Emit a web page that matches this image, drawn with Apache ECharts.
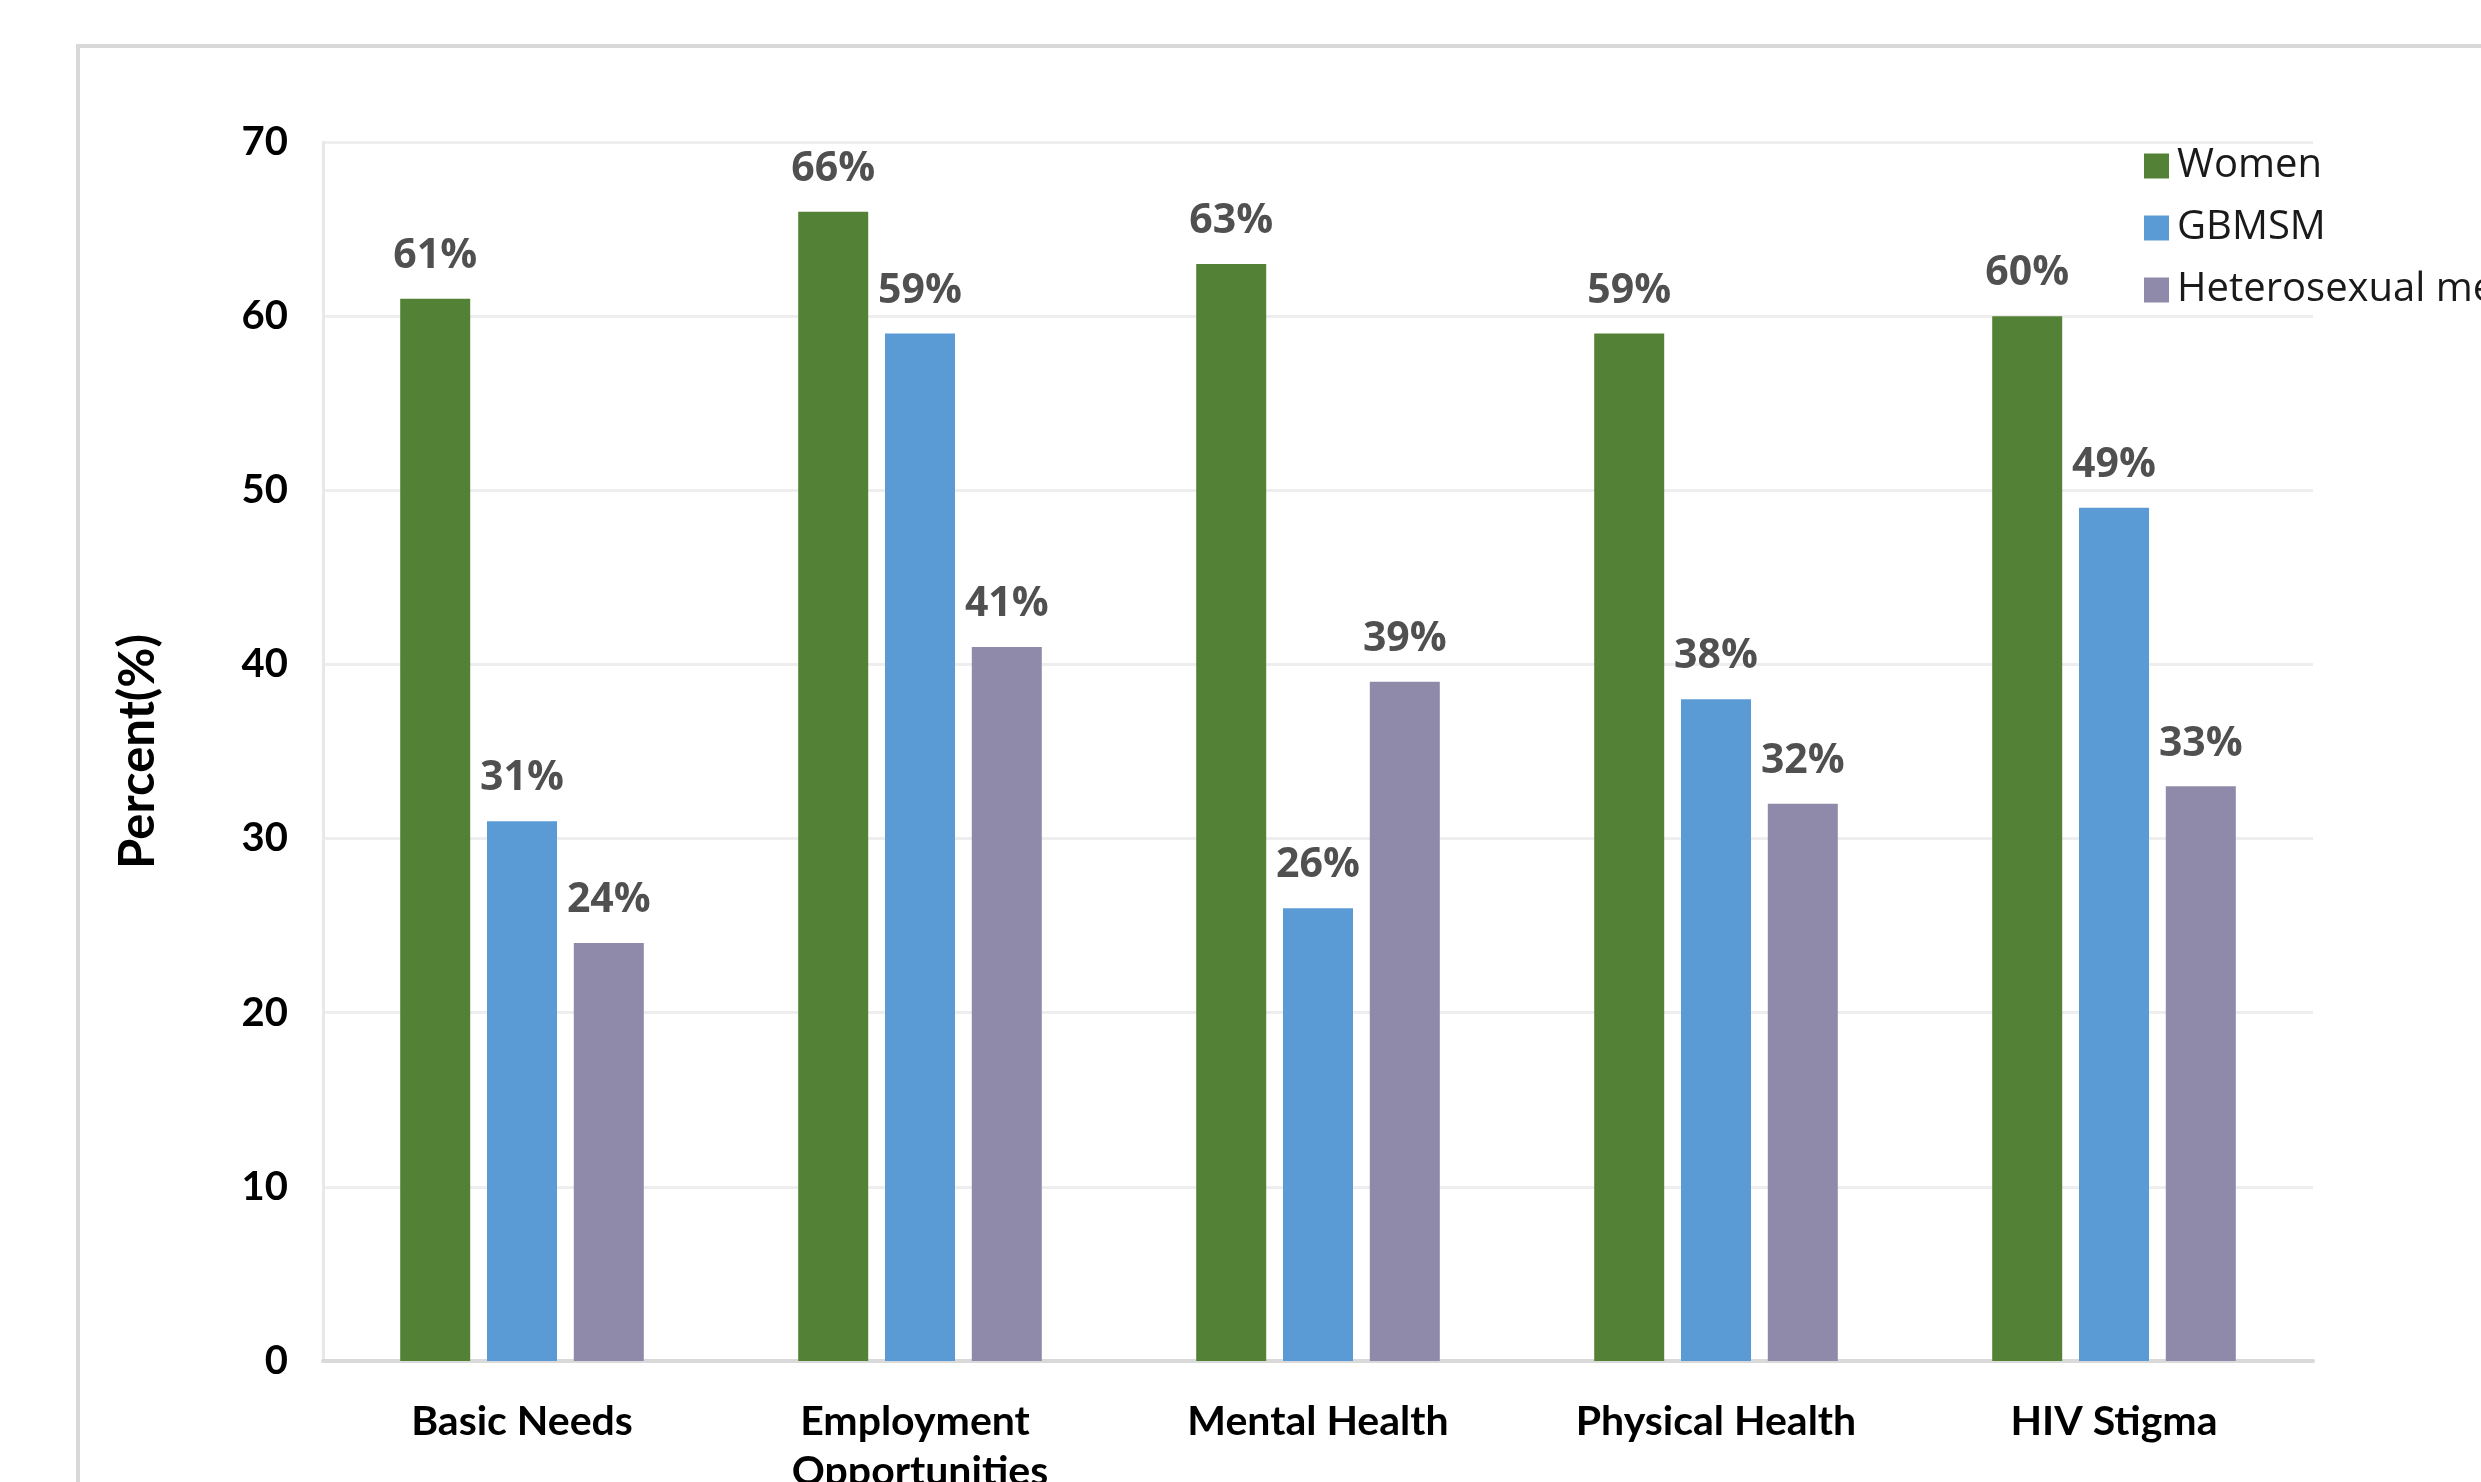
<!DOCTYPE html>
<html>
<head>
<meta charset="utf-8">
<title>Percent by domain and group</title>
<script src="https://cdn.jsdelivr.net/npm/echarts@6/dist/echarts.min.js"></script>
<style>
  html, body { margin: 0; padding: 0; background: #ffffff; }
  #chart { width: 2481px; height: 1482px; }
</style>
</head>
<body>
<div id="chart"></div>
<script>
// Domains on the x axis
const categories = ['Basic Needs', 'Employment Opportunities', 'Mental Health', 'Physical Health', 'HIV Stigma'];

// Percent of each group, one value per domain
const women = [61, 66, 63, 59, 60];
const gbmsm = [31, 59, 26, 38, 49];
const heteroMen = [24, 41, 39, 32, 33];

const seriesNames = ['Women', 'GBMSM', 'Heterosexual men'];
const seriesColors = ['#538135', '#5B9BD5', '#8F8AAA'];

// Y axis range
const yMin = 0;
const yMax = 70;
const yStep = 10;

const chart = echarts.init(document.getElementById('chart'), null, { renderer: 'canvas' });

const labelStyle = {
  show: true,
  position: 'top',
  distance: 22,
  formatter: '{c}%',
  color: '#505050',
  fontFamily: 'Open Sans',
  fontWeight: 'bold',
  fontSize: 41
};

function barSeries(name, values, color) {
  return {
    name: name,
    type: 'bar',
    data: values,
    barWidth: 70,
    barGap: '24%',
    itemStyle: { color: color },
    label: labelStyle,
    emphasis: { disabled: true }
  };
}

chart.setOption({
  animation: false,
  backgroundColor: '#ffffff',
  color: seriesColors,
  graphic: [
    {
      // frame around the chart area
      type: 'rect',
      shape: { x: 78, y: 46, width: 3000, height: 3000 },
      style: { fill: 'none', stroke: '#d9d9d9', lineWidth: 4 },
      silent: true,
      z: -1
    }
  ],
  grid: {
    left: 323,
    right: 168,
    top: 142,
    bottom: 121,
    containLabel: false,
    outerBoundsMode: 'none'
  },
  legend: {
    orient: 'vertical',
    left: 2139,
    top: 141,
    icon: 'rect',
    itemWidth: 25,
    itemHeight: 25,
    itemGap: 22,
    data: seriesNames,
    textStyle: {
      color: '#1a1a1a',
      fontFamily: 'Open Sans',
      fontSize: 40,
      padding: [0, 0, 0, 3]
    }
  },
  xAxis: {
    type: 'category',
    data: categories,
    axisLine: { show: true, lineStyle: { color: '#d9d9d9', width: 4 } },
    axisTick: { show: false },
    axisLabel: {
      color: '#000000',
      fontFamily: 'Lato',
      fontWeight: 'bold',
      fontSize: 41,
      margin: 36,
      lineHeight: 50,
      width: 330,
      overflow: 'break',
      interval: 0
    }
  },
  yAxis: {
    type: 'value',
    min: yMin,
    max: yMax,
    interval: yStep,
    name: 'Percent(%)',
    nameLocation: 'middle',
    nameGap: 160,
    nameRotate: 90,
    nameTextStyle: {
      color: '#000000',
      fontFamily: 'Lato',
      fontWeight: 'bold',
      fontSize: 49
    },
    axisLine: { show: true, lineStyle: { color: '#e8e8e8', width: 3 } },
    axisTick: { show: false },
    splitLine: { show: true, lineStyle: { color: '#eeeeee', width: 3 } },
    axisLabel: {
      color: '#000000',
      fontFamily: 'Lato',
      fontWeight: 'bold',
      fontSize: 40,
      margin: 35
    }
  },
  series: [
    barSeries(seriesNames[0], women, seriesColors[0]),
    barSeries(seriesNames[1], gbmsm, seriesColors[1]),
    barSeries(seriesNames[2], heteroMen, seriesColors[2])
  ]
});
</script>
</body>
</html>
